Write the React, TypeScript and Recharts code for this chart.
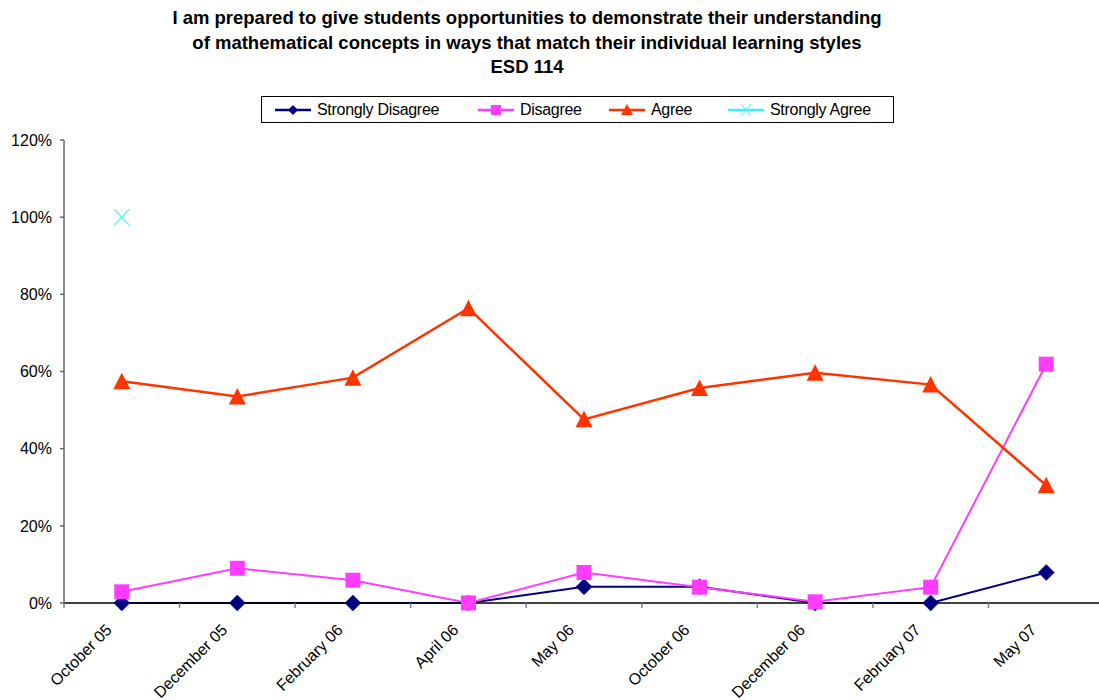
import React from 'react';
import { LineChart, Line, XAxis, YAxis } from 'recharts';

const categories = ['October 05', 'December 05', 'February 06', 'April 06', 'May 06', 'October 06', 'December 06', 'February 07', 'May 07'];
const stronglyDisagree = [0, 0, 0, 0, 0.042, 0.042, 0, 0, 0.079];
const disagree = [0.029, 0.09, 0.059, 0, 0.079, 0.041, 0.003, 0.041, 0.619];
const agree = [0.575, 0.535, 0.584, 0.764, 0.476, 0.557, 0.597, 0.566, 0.305];
const stronglyAgree: (number | null)[] = [1.0, null, null, null, null, null, null, null, null];
const yTicks = [0, 0.2, 0.4, 0.6, 0.8, 1.0, 1.2];
const seriesNames = ['Strongly Disagree', 'Disagree', 'Agree', 'Strongly Agree'];
const titleLines = [
  'I am prepared to give students opportunities to demonstrate their understanding',
  'of mathematical concepts in ways that match their individual learning styles',
  'ESD 114',
];

const COLORS = { sd: '#000080', d: '#FF3CFF', a: '#FF3300', sa: '#3FF0F0' };

const data = categories.map((name, i) => ({
  name,
  sd: stronglyDisagree[i],
  d: disagree[i],
  a: agree[i],
  sa: stronglyAgree[i],
}));

const FONT = '"Liberation Sans", Arial, sans-serif';

const ok = (p: any) => typeof p.cx === 'number' && typeof p.cy === 'number' && p.value != null && !isNaN(p.cy);

const Diamond = (p: any) => {
  if (!ok(p)) return <g key={p.index} />;
  const { cx, cy } = p;
  const r = 8;
  return <polygon key={p.index} points={`${cx},${cy - r} ${cx + r},${cy} ${cx},${cy + r} ${cx - r},${cy}`} fill={COLORS.sd} stroke={COLORS.sd} strokeWidth={0.5} />;
};
const Square = (p: any) => {
  if (!ok(p)) return <g key={p.index} />;
  const { cx, cy } = p;
  const h = 7.5;
  return <rect key={p.index} x={cx - h} y={cy - h} width={2 * h} height={2 * h} fill={COLORS.d} />;
};
const Triangle = (p: any) => {
  if (!ok(p)) return <g key={p.index} />;
  const { cx, cy } = p;
  return <polygon key={p.index} points={`${cx},${cy - 8.5} ${cx + 8.5},${cy + 8} ${cx - 8.5},${cy + 8}`} fill={COLORS.a} />;
};
const Cross = (p: any) => {
  if (!ok(p)) return <g key={p.index} />;
  const { cx, cy } = p;
  return (
    <g key={p.index} stroke={COLORS.sa} strokeWidth={1.2}>
      <line x1={cx - 7.5} y1={cy - 8} x2={cx + 7.5} y2={cy + 8} />
      <line x1={cx + 7.5} y1={cy - 8} x2={cx - 7.5} y2={cy + 8} />
    </g>
  );
};

const XTick = (props: any) => {
  const { x, y, payload } = props;
  const off = payload && typeof payload.offset === 'number' && payload.offset > 0 ? payload.offset : 57.8;
  const tx = x - 9;
  const ty = y + 28;
  return (
    <g>
      <line x1={x - off} y1={y} x2={x - off} y2={y + 5} stroke="#808080" strokeWidth={1.5} />
      <text x={tx} y={ty} transform={`rotate(-45 ${tx} ${ty})`} textAnchor="end" fontSize={16} fill="#000" fontFamily={FONT}>
        {payload.value}
      </text>
    </g>
  );
};

const LegendIcon = ({ kind, color }: { kind: string; color: string }) => {
  const cx = 18, cy = 8;
  let m: React.ReactNode = null;
  if (kind === 'diamond') m = <polygon points={`${cx},${cy - 5} ${cx + 5},${cy} ${cx},${cy + 5} ${cx - 5},${cy}`} fill={color} />;
  if (kind === 'square') m = <rect x={cx - 5} y={cy - 5} width={10} height={10} fill={color} />;
  if (kind === 'triangle') m = <polygon points={`${cx},${cy - 6} ${cx + 6},${cy + 5} ${cx - 6},${cy + 5}`} fill={color} />;
  if (kind === 'cross') m = (
    <g stroke={color} strokeWidth={1}>
      <line x1={cx - 5} y1={cy - 6} x2={cx + 5} y2={cy + 6} />
      <line x1={cx + 5} y1={cy - 6} x2={cx - 5} y2={cy + 6} />
    </g>
  );
  return (
    <svg width={36} height={16} style={{ display: 'block' }}>
      <line x1={0} y1={cy} x2={36} y2={cy} stroke={color} strokeWidth={2.5} />
      {m}
    </svg>
  );
};

const legendItems = [
  { name: seriesNames[0], kind: 'diamond', color: COLORS.sd, left: 13 },
  { name: seriesNames[1], kind: 'square', color: COLORS.d, left: 216 },
  { name: seriesNames[2], kind: 'triangle', color: COLORS.a, left: 347 },
  { name: seriesNames[3], kind: 'cross', color: COLORS.sa, left: 466 },
];

export default function App() {
  return (
    <div style={{ position: 'fixed', left: 0, top: 0, width: 1099, height: 700, overflow: 'hidden', background: '#fff', fontFamily: FONT }}>
      <div style={{ position: 'absolute', left: 0, top: 0 }}>
        <LineChart width={1110} height={700} data={data} margin={{ top: 140, right: 6, bottom: 0, left: 0 }}>
          <XAxis
            dataKey="name"
            scale="band"
            height={97}
            interval={0}
            tick={<XTick />}
            tickLine={false}
            tickSize={0}
            tickMargin={0}
            axisLine={{ stroke: '#000', strokeWidth: 1.5 }}
          />
          <YAxis
            width={64}
            domain={[0, 1.2]}
            ticks={yTicks}
            interval={0}
            tickFormatter={(v: number) => `${Math.round(v * 100)}%`}
            tick={{ fill: '#000', fontSize: 16, fontFamily: FONT }}
            tickSize={4}
            tickMargin={8}
            axisLine={{ stroke: '#666', strokeWidth: 1.5 }}
            tickLine={{ stroke: '#666', strokeWidth: 1.5 }}
          />
          <Line type="linear" dataKey="sd" name={seriesNames[0]} stroke={COLORS.sd} strokeWidth={2} dot={Diamond} activeDot={false} isAnimationActive={false} />
          <Line type="linear" dataKey="d" name={seriesNames[1]} stroke={COLORS.d} strokeWidth={2} dot={Square} activeDot={false} isAnimationActive={false} />
          <Line type="linear" dataKey="a" name={seriesNames[2]} stroke={COLORS.a} strokeWidth={2.5} dot={Triangle} activeDot={false} isAnimationActive={false} />
          <Line type="linear" dataKey="sa" name={seriesNames[3]} stroke={COLORS.sa} strokeWidth={2} dot={Cross} activeDot={false} isAnimationActive={false} />
        </LineChart>
      </div>
      <div style={{ position: 'absolute', left: 0, top: 6, width: 1054, textAlign: 'center', fontWeight: 'bold', fontSize: 18.5, lineHeight: '24.5px', color: '#000' }}>
        {titleLines.map((t) => (
          <div key={t}>{t}</div>
        ))}
      </div>
      <div style={{ position: 'absolute', left: 261, top: 96, width: 633, height: 27, border: '1px solid #000', boxSizing: 'border-box', background: '#fff' }}>
        {legendItems.map((it) => (
          <div key={it.name} style={{ position: 'absolute', left: it.left, top: 0, height: 25, display: 'flex', alignItems: 'center', fontSize: 16, letterSpacing: -0.3, color: '#000', whiteSpace: 'nowrap' }}>
            <LegendIcon kind={it.kind} color={it.color} />
            <span style={{ marginLeft: 6 }}>{it.name}</span>
          </div>
        ))}
      </div>
    </div>
  );
}
